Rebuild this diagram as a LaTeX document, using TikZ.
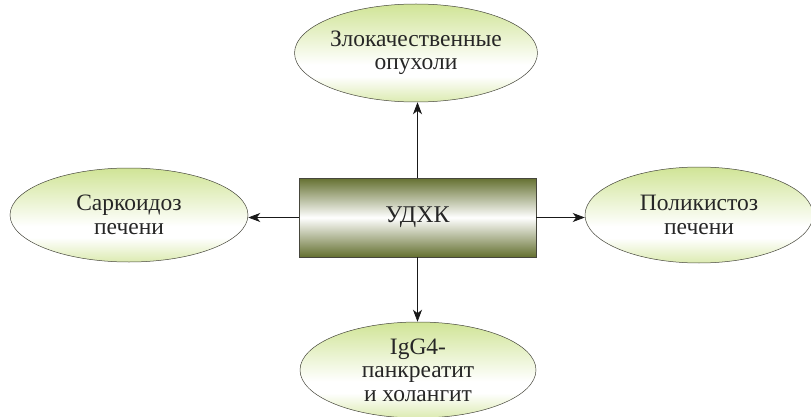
\documentclass[tikz,border=0pt]{standalone}
\usepackage{fontspec}
\setmainfont{Liberation Serif}
\usetikzlibrary{shapes.geometric,arrows.meta}
\definecolor{ellgreen}{RGB}{208,228,150}
\definecolor{olive}{RGB}{100,112,48}
\definecolor{edge}{RGB}{70,70,60}
% light green at the top, white low down, a faint green rim at the bottom
\pgfdeclareverticalshading{ovalshade}{100bp}{%
  color(0bp)=(ellgreen!75); color(25bp)=(ellgreen!75);
  color(38bp)=(white); color(44bp)=(white);
  color(75bp)=(ellgreen); color(100bp)=(ellgreen)}
\tikzset{
  oval/.style={ellipse, draw=edge, line width=0.5pt, inner sep=0pt,
    shading=ovalshade,
    align=center, font=\fontsize{23.5}{23.5}\selectfont, text=black!85},
  core/.style={rectangle, draw=edge, line width=0.6pt, inner sep=0pt,
    minimum width=237pt, minimum height=79pt,
    top color=olive, bottom color=olive, middle color=white,
    font=\fontsize{24}{24}\selectfont, text=black!85},
  link/.style={-{Stealth[length=12pt,width=9pt,inset=3.5pt]}, line width=0.7pt, black!90}
}
\begin{document}
\begin{tikzpicture}[x=1pt,y=-1pt]
\path[use as bounding box] (0,0) rectangle (811,417);
\begin{scope}
\clip (0,0) rectangle (811,417);
\node[core] (c) at (417.5,217.5) {УДХК};
\node[oval, minimum width=230pt, minimum height=98pt] (t) at (416,53) {Злокачественные\\опухоли};
\node[oval, minimum width=238pt, minimum height=94pt] (l) at (129,215) {Саркоидоз\\печени};
\node[oval, minimum width=228pt, minimum height=96pt] (r) at (699,215) {Поликистоз\\печени};
\node[oval, minimum width=236pt, minimum height=96pt] (b) at (418,370) {IgG4-\\панкреатит\\и холангит};
\draw[link] (c.north) -- (c.north |- t.south);
\draw[link] (c.south) -- (c.south |- b.north);
\draw[link] (c.west) -- (c.west -| l.east);
\draw[link] (c.east) -- (c.east -| r.west);
\end{scope}
\end{tikzpicture}
\end{document}
